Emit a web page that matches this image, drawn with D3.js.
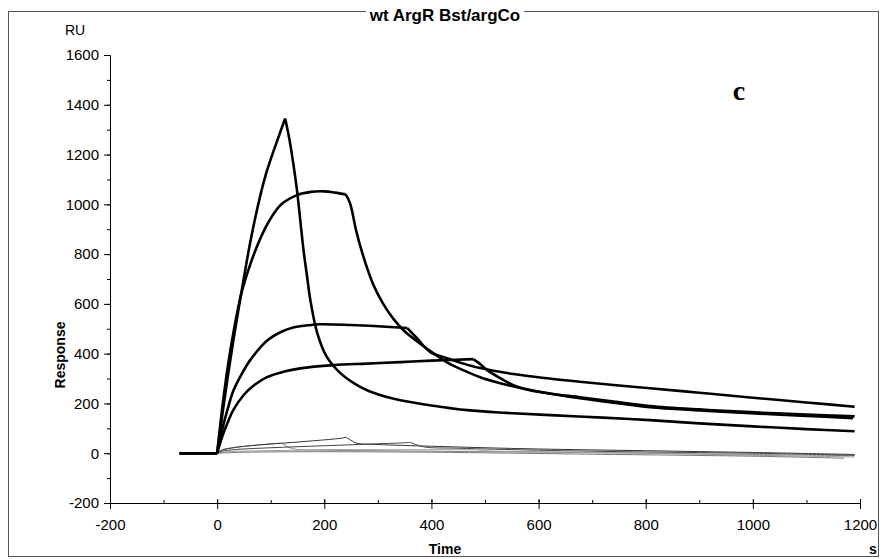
<!DOCTYPE html>
<html>
<head>
<meta charset="utf-8">
<script src="https://cdn.jsdelivr.net/npm/d3@7"></script>
<style>
  body { margin: 0; background: #fff; }
  svg text { font-family: "Liberation Sans", Arial, sans-serif; }
</style>
</head>
<body>
<script>
// Sensorgram data: time (s) and response (RU)
var timeA = [-70, 0, 10, 20, 30, 40, 50, 62, 80, 93, 112, 127, 135, 142, 149, 155, 161, 168, 174, 187, 205, 230, 255, 280, 310, 342, 400, 467, 540, 622, 720, 808, 900, 1000, 1100, 1190];
var respA = [0, 0, 160, 310, 450, 580, 705, 850, 1030, 1135, 1255, 1345, 1260, 1166, 1057, 940, 820, 708, 615, 482, 386, 322, 282, 253, 230, 213, 192, 173, 162, 153, 143, 133, 120, 108, 97, 88];

var timeB = [-70, 0, 10, 20, 30, 45, 62, 80, 99, 120, 149, 175, 200, 220, 240, 248, 260, 273, 291, 310, 329, 350, 379, 398, 429, 460, 491, 530, 566, 620, 677, 740, 808, 900, 995, 1100, 1187];
var respB = [0, 0, 190, 350, 480, 640, 760, 860, 940, 1000, 1037, 1050, 1052, 1047, 1040, 1005, 890, 790, 680, 600, 540, 490, 440, 410, 365, 333, 305, 280, 262, 240, 221, 203, 185, 172, 161, 150, 141];

var timeC = [-70, 0, 10, 20, 30, 45, 62, 93, 120, 142, 170, 192, 250, 300, 355, 373, 398, 429, 460, 491, 553, 620, 677, 740, 808, 900, 995, 1100, 1190];
var respC = [0, 0, 100, 180, 250, 315, 375, 452, 488, 505, 514, 518, 515, 510, 503, 462, 406, 382, 360, 342, 318, 300, 287, 274, 261, 243, 224, 204, 187];

var timeD = [-70, 0, 10, 20, 30, 50, 70, 93, 125, 155, 217, 280, 342, 400, 478, 490, 504, 530, 553, 584, 620, 677, 740, 808, 900, 995, 1100, 1190];
var respD = [0, 0, 70, 125, 173, 235, 275, 306, 328, 341, 354, 360, 366, 372, 378, 360, 334, 300, 273, 253, 240, 225, 208, 190, 176, 165, 155, 148];

// control / weak binding runs (thin lines)
var timeT1 = [-70, 0, 10, 30, 62, 114, 120, 130, 146, 200, 300, 500, 800, 1000, 1190];
var respT1 = [0, 0, 12, 22, 30, 40, 40, 28, 16, 12, 10, 6, 0, -5, -10];
var timeT2 = [-70, 0, 10, 30, 60, 120, 180, 230, 240, 250, 261, 300, 400, 500, 600, 800, 1000, 1190];
var respT2 = [0, 0, 14, 22, 30, 40, 50, 60, 64, 52, 40, 35, 28, 22, 17, 10, 3, -5];
var timeT3 = [-70, 0, 10, 30, 100, 200, 300, 350, 360, 375, 390, 450, 600, 800, 1000, 1190];
var respT3 = [0, 0, 8, 14, 22, 30, 38, 42, 44, 32, 24, 20, 12, 5, 0, -8];
var timeT4 = [-70, 0, 20, 100, 200, 300, 480, 500, 600, 800, 1000, 1190];
var respT4 = [0, 0, 6, 10, 14, 14, 14, 10, 6, 0, -8, -15];
var timeT5 = [-70, 0, 50, 200, 400, 700, 1000, 1170];
var respT5 = [0, 0, 4, 6, 4, -4, -12, -20];

// end of each injection (s)
var injEnd = [127, 240, 355, 478, 120, 240, 360, 480, 1170];

var xTicks = [-200, 0, 200, 400, 600, 800, 1000, 1200];
var yTicks = [-200, 0, 200, 400, 600, 800, 1000, 1200, 1400, 1600];

var width = 883, height = 559;

var svg = d3.select("body").append("svg")
  .attr("width", width)
  .attr("height", height);

// frame around the figure
svg.append("rect")
  .attr("x", 8.5).attr("y", 11.5)
  .attr("width", 870).attr("height", 545)
  .attr("fill", "none")
  .attr("stroke", "#555")
  .attr("stroke-width", 1);

var x = d3.scaleLinear().domain([-200, 1200]).range([110, 860]);
var y = d3.scaleLinear().domain([-200, 1600]).range([503, 55]);

var minorX = d3.range(-200, 1201, 100);
var minorY = d3.range(-200, 1601, 100);
var plain = function(d) { return String(d); };

// x axis
var gx = svg.append("g").attr("transform", "translate(0," + y(-200) + ")");
gx.call(d3.axisBottom(x).tickValues(minorX).tickSize(-3).tickSizeOuter(0).tickFormat(""));
gx.append("g").call(d3.axisBottom(x).tickValues(xTicks).tickSize(-4).tickSizeOuter(0).tickFormat(""));
gx.append("g").call(d3.axisBottom(x).tickValues(xTicks).tickSize(6).tickPadding(10).tickSizeOuter(0).tickFormat(plain));

// y axis
var gy = svg.append("g").attr("transform", "translate(" + x(-200) + ",0)");
gy.call(d3.axisLeft(y).tickValues(minorY).tickSize(3).tickSizeOuter(0).tickFormat(""));
gy.append("g").call(d3.axisLeft(y).tickValues(yTicks).tickSize(6).tickPadding(5).tickSizeOuter(0).tickFormat(plain));

svg.selectAll(".domain").attr("stroke", "#000");
svg.selectAll(".tick line").attr("stroke", "#000");
svg.selectAll(".tick text")
  .style("font-size", "15px")
  .attr("fill", "#000");

var line = d3.line()
  .x(function(d) { return x(d[0]); })
  .y(function(d) { return y(d[1]); })
  .curve(d3.curveCatmullRom.alpha(0.5));

// split a run at the injection start (0 s) and end so the kinks stay sharp
function pieces(ts, vs, end) {
  var pts = ts.map(function(t, i) { return [t, vs[i]]; });
  var a = pts.filter(function(p) { return p[0] <= 0; });
  var b = pts.filter(function(p) { return p[0] >= 0 && p[0] <= end; });
  var c = pts.filter(function(p) { return p[0] >= end; });
  return [a, b, c].filter(function(s) { return s.length > 1; });
}

var thin = [
  { t: timeT1, v: respT1, end: injEnd[4], color: "#888" },
  { t: timeT2, v: respT2, end: injEnd[5], color: "#333" },
  { t: timeT3, v: respT3, end: injEnd[6], color: "#444" },
  { t: timeT4, v: respT4, end: injEnd[7], color: "#999" },
  { t: timeT5, v: respT5, end: injEnd[8], color: "#777" }
];
var thick = [
  { t: timeA, v: respA, end: injEnd[0] },
  { t: timeB, v: respB, end: injEnd[1] },
  { t: timeC, v: respC, end: injEnd[2] },
  { t: timeD, v: respD, end: injEnd[3] }
];

thin.forEach(function(s) {
  svg.append("g").selectAll("path")
    .data(pieces(s.t, s.v, s.end))
    .enter().append("path")
    .attr("d", line)
    .attr("fill", "none")
    .attr("stroke", s.color)
    .attr("stroke-width", 1);
});

thick.forEach(function(s) {
  svg.append("g").selectAll("path")
    .data(pieces(s.t, s.v, s.end))
    .enter().append("path")
    .attr("d", line)
    .attr("fill", "none")
    .attr("stroke", "#000")
    .attr("stroke-width", 2.6)
    .attr("stroke-linejoin", "round");
});

// titles and labels
svg.append("rect")
  .attr("x", 366).attr("y", 6)
  .attr("width", 158).attr("height", 18)
  .attr("fill", "#fff");

svg.append("text")
  .attr("x", 445).attr("y", 21)
  .attr("text-anchor", "middle")
  .style("font-size", "17px").style("font-weight", "bold")
  .text("wt ArgR Bst/argCo");

svg.append("text")
  .attr("x", 75).attr("y", 35)
  .attr("text-anchor", "middle")
  .style("font-size", "14px")
  .text("RU");

svg.append("text")
  .attr("transform", "translate(65,355) rotate(-90)")
  .attr("text-anchor", "middle")
  .style("font-size", "14px").style("font-weight", "bold")
  .text("Response");

svg.append("text")
  .attr("x", 445).attr("y", 554)
  .attr("text-anchor", "middle")
  .style("font-size", "14px").style("font-weight", "bold")
  .text("Time");

svg.append("text")
  .attr("x", 873).attr("y", 554)
  .attr("text-anchor", "middle")
  .style("font-size", "14px").style("font-weight", "bold")
  .text("s");

svg.append("text")
  .attr("x", 739).attr("y", 100)
  .attr("text-anchor", "middle")
  .style("font-family", "'Liberation Serif', 'Times New Roman', serif")
  .style("font-size", "28px").style("font-weight", "bold")
  .text("c");
</script>
</body>
</html>
